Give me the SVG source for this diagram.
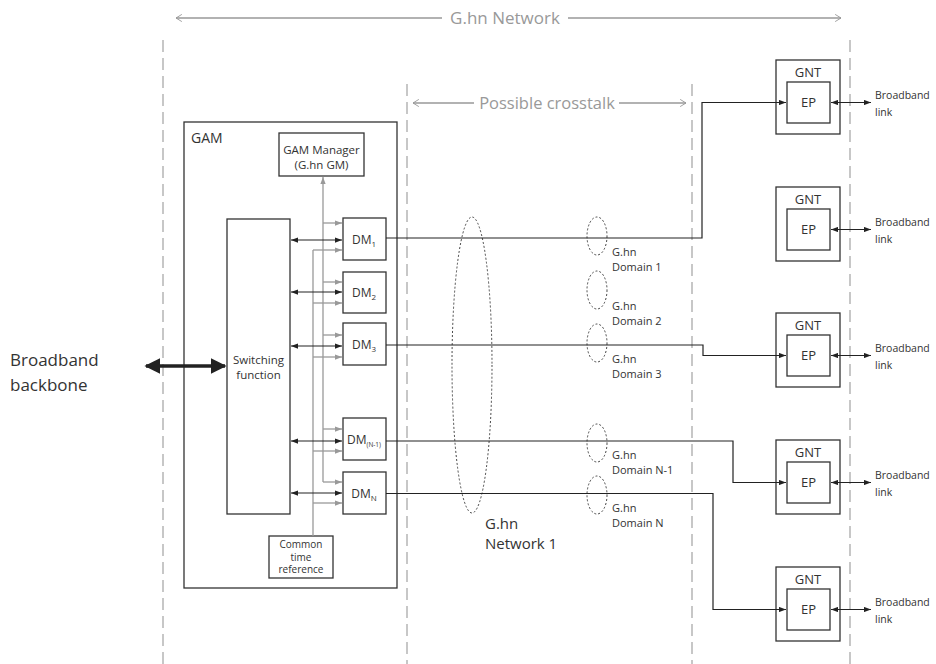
<svg xmlns="http://www.w3.org/2000/svg" width="936" height="664" viewBox="0 0 936 664">
<style>
text{font-family:"Open Sans","Liberation Sans",sans-serif;fill:#333}
.box{fill:#fff;stroke:#333;stroke-width:1.3}
.dash{stroke:#aaa;stroke-width:1.3;stroke-dasharray:12 6;fill:none}
.gl{stroke:#999;stroke-width:1.3;fill:none}
.bl{stroke:#222;stroke-width:1.2;fill:none}
.el{fill:none;stroke:#333;stroke-width:0.9;stroke-dasharray:2 2}
.lab{fill:#999}
.s11{font-size:11px}
.s13{font-size:13px}
</style>
<defs>
<marker id="ab" viewBox="0 0 8 6" refX="8" refY="3" markerWidth="7" markerHeight="5.5" markerUnits="userSpaceOnUse" orient="auto-start-reverse"><path d="M0,0 L8,3 L0,6 z" fill="#222"/></marker>
<marker id="ag" viewBox="0 0 8 6" refX="8" refY="3" markerWidth="7" markerHeight="5.5" markerUnits="userSpaceOnUse" orient="auto-start-reverse"><path d="M0,0 L8,3 L0,6 z" fill="#999"/></marker>
<marker id="ao" viewBox="0 0 10 10" refX="9.5" refY="5" markerWidth="9" markerHeight="9" markerUnits="userSpaceOnUse" orient="auto-start-reverse"><path d="M3,1 L9.5,5 L3,9" fill="none" stroke="#999" stroke-width="1"/></marker>
<marker id="abig" viewBox="0 0 10 10" refX="9" refY="5" markerWidth="16" markerHeight="16" markerUnits="userSpaceOnUse" orient="auto-start-reverse"><path d="M0,0 L10,5 L0,10 z" fill="#222"/></marker>
</defs>

<g id="boundaries">
<line class="dash" x1="163" y1="40" x2="163" y2="664"/>
<line class="dash" x1="850" y1="40" x2="850" y2="664"/>
<line class="dash" x1="407" y1="84" x2="407" y2="664"/>
<line class="dash" x1="692" y1="84" x2="692" y2="664"/>
</g>

<g id="network-label">
<line class="gl" x1="176" y1="18" x2="442" y2="18" marker-start="url(#ao)"/>
<line class="gl" x1="568" y1="18" x2="841" y2="18" marker-end="url(#ao)"/>
<text class="lab" x="505" y="24" text-anchor="middle" font-size="17">G.hn Network</text>
</g>

<g id="crosstalk-label">
<line class="gl" x1="413" y1="103" x2="474" y2="103" marker-start="url(#ao)"/>
<line class="gl" x1="619" y1="103" x2="686" y2="103" marker-end="url(#ao)"/>
<text class="lab" x="547" y="109" text-anchor="middle" font-size="16.5">Possible crosstalk</text>
</g>

<g id="backbone">
<text x="10" y="366" font-size="17">Broadband</text>
<text x="10" y="391" font-size="17">backbone</text>
</g>

<g id="gam">
<rect class="box" x="184" y="122" width="213" height="466"/>
<text x="191" y="143" font-size="14">GAM</text>
</g>

<g id="gam-manager">
<rect class="box" x="279" y="133" width="85" height="43"/>
<text x="321.5" y="154" text-anchor="middle" font-size="11.5">GAM Manager</text>
<text x="321.5" y="169" text-anchor="middle" font-size="11.5">(G.hn GM)</text>
</g>

<g id="switching">
<rect class="box" x="227" y="219" width="63" height="295"/>
<text x="258.5" y="364" text-anchor="middle" font-size="11.5">Switching</text>
<text x="258.5" y="379" text-anchor="middle" font-size="11.5">function</text>
</g>

<g id="time-ref">
<rect class="box" x="269" y="536" width="64" height="42"/>
<text x="301" y="548" text-anchor="middle" font-size="10">Common</text>
<text x="301" y="560.5" text-anchor="middle" font-size="10">time</text>
<text x="301" y="573" text-anchor="middle" font-size="10">reference</text>
</g>

<g id="dm1"><rect class="box" x="343" y="218" width="43" height="42"/><text x="364" y="244" text-anchor="middle" font-size="12">DM<tspan font-size="8" dy="3">1</tspan></text></g>
<g id="dm2"><rect class="box" x="343" y="272" width="43" height="41"/><text x="364" y="297" text-anchor="middle" font-size="12">DM<tspan font-size="8" dy="3">2</tspan></text></g>
<g id="dm3"><rect class="box" x="343" y="323" width="43" height="42"/><text x="364" y="349" text-anchor="middle" font-size="12">DM<tspan font-size="8" dy="3">3</tspan></text></g>
<g id="dmn1"><rect class="box" x="343" y="418" width="43" height="42"/><text x="364" y="444" text-anchor="middle" font-size="12">DM<tspan font-size="6.5" dy="3">(N-1)</tspan></text></g>
<g id="dmn"><rect class="box" x="343" y="472" width="43" height="42"/><text x="364" y="498" text-anchor="middle" font-size="12">DM<tspan font-size="8" dy="3">N</tspan></text></g>

<g id="gnt1"><rect class="box" x="776" y="60" width="64" height="74"/><text x="808" y="77" text-anchor="middle" class="s13">GNT</text><rect class="box" x="787" y="82" width="43" height="41"/><text x="808.5" y="107" text-anchor="middle" class="s13">EP</text></g>
<g id="gnt2"><rect class="box" x="776" y="187" width="64" height="74"/><text x="808" y="204" text-anchor="middle" class="s13">GNT</text><rect class="box" x="787" y="209" width="43" height="41"/><text x="808.5" y="234" text-anchor="middle" class="s13">EP</text></g>
<g id="gnt3"><rect class="box" x="776" y="313" width="64" height="74"/><text x="808" y="330" text-anchor="middle" class="s13">GNT</text><rect class="box" x="787" y="335" width="43" height="41"/><text x="808.5" y="360" text-anchor="middle" class="s13">EP</text></g>
<g id="gnt4"><rect class="box" x="776" y="440" width="64" height="74"/><text x="808" y="457" text-anchor="middle" class="s13">GNT</text><rect class="box" x="787" y="462" width="43" height="41"/><text x="808.5" y="487" text-anchor="middle" class="s13">EP</text></g>
<g id="gnt5"><rect class="box" x="776" y="567" width="64" height="74"/><text x="808" y="584" text-anchor="middle" class="s13">GNT</text><rect class="box" x="787" y="589" width="43" height="41"/><text x="808.5" y="614" text-anchor="middle" class="s13">EP</text></g>

<g id="links-text" font-size="10.5">
<text x="875" y="99" font-size="10.5">Broadband</text><text x="875" y="116" font-size="10.5">link</text>
<text x="875" y="226" font-size="10.5">Broadband</text><text x="875" y="243" font-size="10.5">link</text>
<text x="875" y="352" font-size="10.5">Broadband</text><text x="875" y="369" font-size="10.5">link</text>
<text x="875" y="479" font-size="10.5">Broadband</text><text x="875" y="496" font-size="10.5">link</text>
<text x="875" y="606" font-size="10.5">Broadband</text><text x="875" y="623" font-size="10.5">link</text>
</g>

<g id="domains">
<ellipse class="el" cx="472" cy="365" rx="20" ry="148"/>
<text x="485" y="529" font-size="15">G.hn</text>
<text x="485" y="549" font-size="15">Network 1</text>
<ellipse class="el" cx="597" cy="236" rx="10" ry="19"/>
<ellipse class="el" cx="597" cy="290" rx="10" ry="19"/>
<ellipse class="el" cx="597" cy="343" rx="10" ry="19"/>
<ellipse class="el" cx="597" cy="443" rx="10" ry="19"/>
<ellipse class="el" cx="597" cy="495" rx="10" ry="19"/>
<text x="612" y="256" class="s11">G.hn</text><text x="612" y="271" class="s11">Domain 1</text>
<text x="612" y="310" class="s11">G.hn</text><text x="612" y="325" class="s11">Domain 2</text>
<text x="612" y="363" class="s11">G.hn</text><text x="612" y="378" class="s11">Domain 3</text>
<text x="612" y="459" class="s11">G.hn</text><text x="612" y="474" class="s11">Domain N-1</text>
<text x="612" y="512" class="s11">G.hn</text><text x="612" y="527" class="s11">Domain N</text>
</g>

<g id="connectors">
<line x1="146" y1="366" x2="225" y2="366" stroke="#222" stroke-width="3.5" marker-start="url(#abig)" marker-end="url(#abig)"/>
<path class="gl" d="M323,482 V177" marker-end="url(#ag)"/>
<path class="gl" d="M323,223 H342" marker-end="url(#ag)"/>
<path class="gl" d="M323,282 H342" marker-end="url(#ag)"/>
<path class="gl" d="M323,335 H342" marker-end="url(#ag)"/>
<path class="gl" d="M323,429 H342" marker-end="url(#ag)"/>
<path class="gl" d="M323,482 H342" marker-end="url(#ag)"/>
<path class="gl" d="M313,536 V250"/>
<path class="gl" d="M313,250 H342" marker-end="url(#ag)"/>
<path class="gl" d="M313,303 H342" marker-end="url(#ag)"/>
<path class="gl" d="M313,357 H342" marker-end="url(#ag)"/>
<path class="gl" d="M313,451 H342" marker-end="url(#ag)"/>
<path class="gl" d="M313,503 H342" marker-end="url(#ag)"/>
<line class="bl" x1="291" y1="240" x2="342" y2="240" marker-start="url(#ab)" marker-end="url(#ab)"/>
<line class="bl" x1="291" y1="292" x2="342" y2="292" marker-start="url(#ab)" marker-end="url(#ab)"/>
<line class="bl" x1="291" y1="346" x2="342" y2="346" marker-start="url(#ab)" marker-end="url(#ab)"/>
<line class="bl" x1="291" y1="441" x2="342" y2="441" marker-start="url(#ab)" marker-end="url(#ab)"/>
<line class="bl" x1="291" y1="493" x2="342" y2="493" marker-start="url(#ab)" marker-end="url(#ab)"/>
<path class="bl" d="M386,238 H702 V102.5 H786" marker-end="url(#ab)"/>
<path class="bl" d="M386,345 H703 V355.5 H786" marker-end="url(#ab)"/>
<path class="bl" d="M386,441 H733 V482.5 H786" stroke="#555" marker-end="url(#ab)"/>
<path class="bl" d="M386,493.5 H713 V609.5 H786" marker-end="url(#ab)"/>
<line class="bl" x1="831" y1="102.5" x2="871" y2="102.5" marker-start="url(#ab)" marker-end="url(#ab)"/>
<line class="bl" x1="831" y1="229.5" x2="871" y2="229.5" marker-start="url(#ab)" marker-end="url(#ab)"/>
<line class="bl" x1="831" y1="355.5" x2="871" y2="355.5" marker-start="url(#ab)" marker-end="url(#ab)"/>
<line class="bl" x1="831" y1="482.5" x2="871" y2="482.5" marker-start="url(#ab)" marker-end="url(#ab)"/>
<line class="bl" x1="831" y1="609.5" x2="871" y2="609.5" marker-start="url(#ab)" marker-end="url(#ab)"/>
</g>
</svg>
